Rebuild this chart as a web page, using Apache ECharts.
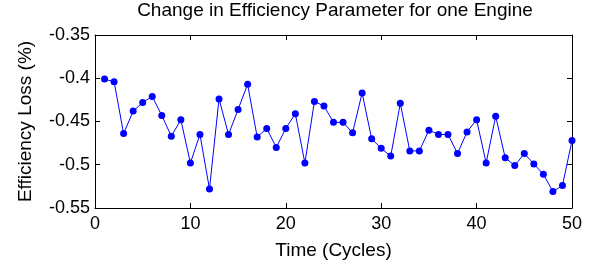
<!DOCTYPE html>
<html>
<head>
<meta charset="utf-8">
<script src="https://cdn.jsdelivr.net/npm/echarts@6/dist/echarts.min.js"></script>
<style>
  html, body { margin: 0; padding: 0; background: #fff; }
  #chart { width: 597px; height: 268px; }
</style>
</head>
<body>
<div id="chart"></div>
<script>
// cycles 1..50
const cycles = [1,2,3,4,5,6,7,8,9,10,11,12,13,14,15,16,17,18,19,20,21,22,23,24,25,
  26,27,28,29,30,31,32,33,34,35,36,37,38,39,40,41,42,43,44,45,46,47,48,49,50];
const effLoss = [-0.401,-0.404,-0.464,-0.438,-0.428,-0.421,-0.443,-0.467,-0.448,-0.498,
  -0.465,-0.528,-0.424,-0.465,-0.436,-0.407,-0.468,-0.458,-0.480,-0.458,
  -0.441,-0.498,-0.427,-0.432,-0.451,-0.451,-0.463,-0.417,-0.470,-0.481,
  -0.490,-0.429,-0.484,-0.484,-0.460,-0.465,-0.465,-0.487,-0.462,-0.448,
  -0.498,-0.444,-0.492,-0.501,-0.487,-0.499,-0.511,-0.531,-0.524,-0.472];
const xTicks = { min: 0, max: 50, step: 10 };
const yTicks = { min: -0.55, max: -0.35, step: 0.05 };

const chart = echarts.init(document.getElementById('chart'));
const font = 'Liberation Sans, Arial, sans-serif';
const lineCol = '#000';

const axisBase = {
  axisLine: { show: true, onZero: false, lineStyle: { color: lineCol, width: 1 } },
  axisTick: { show: true, inside: true, length: 5, lineStyle: { color: lineCol } },
  splitLine: { show: false }
};

chart.setOption({
  animation: false,
  title: {
    text: 'Change in Efficiency Parameter for one Engine',
    left: 335, top: 1, padding: 0, textAlign: 'center',
    textStyle: { fontFamily: font, fontSize: 19, fontWeight: 'normal', color: '#000' }
  },
  grid: { left: 95, right: 25, top: 35, bottom: 60 },
  xAxis: [
    Object.assign({}, axisBase, {
      type: 'value', min: xTicks.min, max: xTicks.max, interval: xTicks.step,
      name: 'Time (Cycles)', nameLocation: 'middle', nameGap: 33,
      nameTextStyle: { fontFamily: font, fontSize: 19, color: '#000' },
      axisLabel: { fontFamily: font, fontSize: 18, color: '#000', margin: 7 }
    }),
    Object.assign({}, axisBase, {
      type: 'value', position: 'top', min: xTicks.min, max: xTicks.max, interval: xTicks.step,
      axisLabel: { show: false }
    })
  ],
  yAxis: [
    Object.assign({}, axisBase, {
      type: 'value', min: yTicks.min, max: yTicks.max, interval: yTicks.step,
      name: 'Efficiency Loss (%)', nameLocation: 'middle', nameGap: 60, nameRotate: 90,
      nameTextStyle: { fontFamily: font, fontSize: 19, color: '#000' },
      axisLabel: { fontFamily: font, fontSize: 18, color: '#000', margin: 5 }
    }),
    Object.assign({}, axisBase, {
      type: 'value', position: 'right', min: yTicks.min, max: yTicks.max, interval: yTicks.step,
      axisLabel: { show: false }
    })
  ],
  series: [{
    type: 'line',
    data: cycles.map((c, i) => [c, effLoss[i]]),
    symbol: 'circle',
    symbolSize: 7,
    lineStyle: { color: '#0000ff', width: 1 },
    itemStyle: { color: '#0000ff' }
  }]
});
</script>
</body>
</html>
